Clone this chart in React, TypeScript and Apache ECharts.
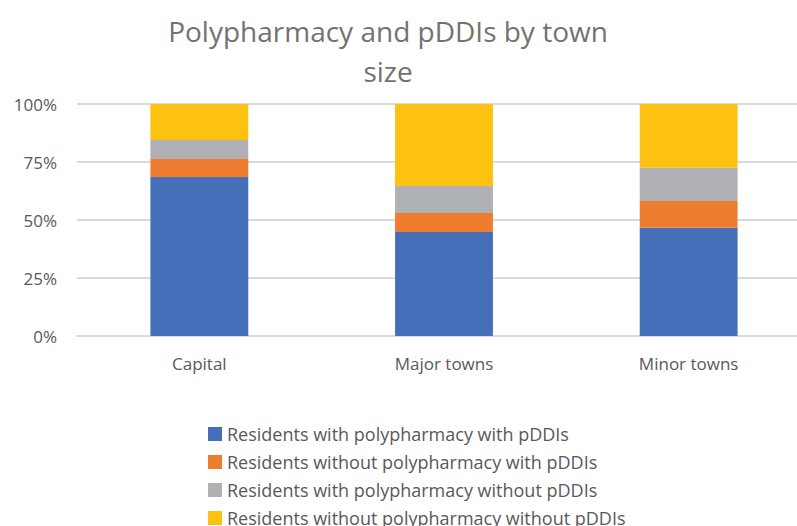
import React, { useEffect, useRef } from "react";
import * as echarts from "echarts";

const categories = ["Capital", "Major towns", "Minor towns"];
const seriesNames = [
  "Residents with polypharmacy with pDDIs",
  "Residents without polypharmacy with pDDIs",
  "Residents with polypharmacy without pDDIs",
  "Residents without polypharmacy without pDDIs",
];
const withPolyWithPddi = [68.5, 44.8, 46.7];
const withoutPolyWithPddi = [7.8, 8.2, 11.5];
const withPolyWithoutPddi = [8.2, 11.7, 14.3];
const withoutPolyWithoutPddi = [15.5, 35.3, 27.5];
const colors = ["#4570B9", "#EE7D30", "#B0B1B4", "#FCC111"];
const yTicks = [0, 25, 50, 75, 100];

export default function App() {
  const ref = useRef<HTMLDivElement>(null);
  useEffect(() => {
    const chart = echarts.init(ref.current!, null, { renderer: "svg" });
    const values = [withPolyWithPddi, withoutPolyWithPddi, withPolyWithoutPddi, withoutPolyWithoutPddi];
    const font = "Open Sans, Calibri, sans-serif";
    chart.setOption({
      animation: false,
      title: {
        text: "Polypharmacy and pDDIs by town\nsize",
        left: 383,
        textAlign: "center",
        top: 6,
        textStyle: { fontFamily: font, fontSize: 28, fontWeight: "normal", color: "#767171", lineHeight: 40 },
      },
      grid: { left: 77, top: 104, width: 734, height: 232 },
      xAxis: {
        type: "category",
        data: categories,
        axisLine: { show: true, lineStyle: { color: "#D9D9D9", width: 2 } },
        axisTick: { show: false },
        axisLabel: { fontFamily: font, fontSize: 17, color: "#595959", margin: 19 },
      },
      yAxis: {
        type: "value",
        min: 0,
        max: 100,
        interval: 25,
        axisLine: { show: false },
        axisTick: { show: false },
        splitLine: { lineStyle: { color: "#D9D9D9", width: 2 } },
        axisLabel: {
          fontFamily: font,
          fontSize: 17,
          color: "#595959",
          margin: 20,
          formatter: (v: number) => (yTicks.includes(v) ? v + "%" : ""),
        },
      },
      legend: {
        orient: "vertical",
        left: 203,
        top: 420,
        height: 200,
        padding: 5,
        itemWidth: 14,
        itemHeight: 14,
        itemGap: 10,
        icon: "rect",
        textStyle: { fontFamily: font, fontSize: 18, color: "#595959", lineHeight: 16 },
        data: seriesNames,
      },
      series: seriesNames.map((name, i) => ({
        name,
        type: "bar",
        stack: "total",
        barWidth: "40%",
        itemStyle: { color: colors[i] },
        data: values[i],
      })),
    });
    return () => chart.dispose();
  }, []);
  return (
    <div style={{ width: 797, height: 526, position: "absolute", left: 0, top: 0, overflow: "hidden" }}>
      <div ref={ref} style={{ width: 811, height: 526 }} />
    </div>
  );
}
